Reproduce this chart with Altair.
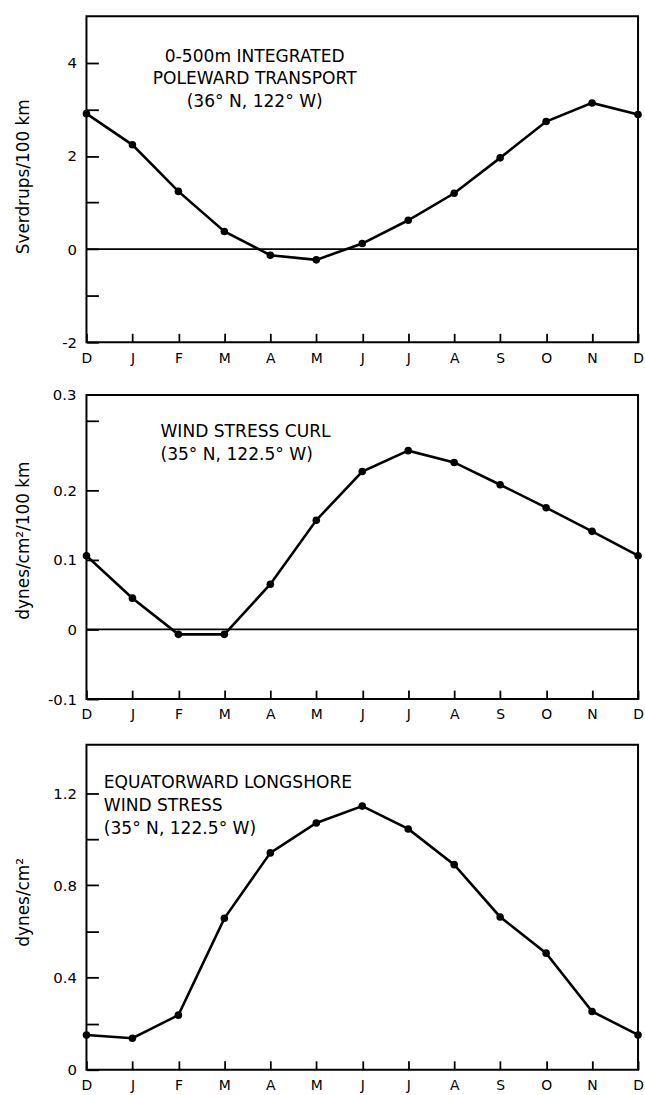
import json

import altair as alt
import pandas as pd

# Month sequence, December to December
MONTHS = ["D", "J", "F", "M", "A", "M", "J", "J", "A", "S", "O", "N", "D"]

# 0-500 m integrated poleward transport (Sverdrups / 100 km)
TRANSPORT = [2.91, 2.24, 1.24, 0.38, -0.13, -0.23, 0.12, 0.62, 1.20, 1.96, 2.74, 3.14, 2.89]
# Wind stress curl (dynes/cm^2 / 100 km)
CURL = [0.106, 0.045, -0.007, -0.007, 0.065, 0.157, 0.227, 0.257, 0.240, 0.208, 0.175, 0.141, 0.106]
# Equatorward longshore wind stress (dynes/cm^2)
STRESS = [0.151, 0.137, 0.237, 0.657, 0.941, 1.071, 1.144, 1.045, 0.890, 0.663, 0.506, 0.253, 0.151]

# Axis tick values and the labels shown on them
TRANSPORT_TICKS = [-2, -1, 0, 1, 2, 3, 4]
TRANSPORT_LABELS = {-2: "-2", 0: "0", 2: "2", 4: "4"}
CURL_TOP = 0.337
CURL_TICKS = [-0.1, -0.05, 0, 0.05, 0.1, 0.15, 0.2, 0.25, 0.3]
CURL_LABELS = {-0.1: "-0.1", 0: "0", 0.1: "0.1", 0.2: "0.2"}
CURL_TOP_LABEL = "0.3"
STRESS_TICKS = [0, 0.2, 0.4, 0.6, 0.8, 1.0, 1.2]
STRESS_LABELS = {0: "0", 0.4: "0.4", 0.8: "0.8", 1.2: "1.2"}

FONT = "DejaVu Sans"
WIDTH = 555
ONE = pd.DataFrame({"k": [0]})


def label_expr(mapping):
    vals = json.dumps(list(mapping.keys()))
    texts = json.dumps(list(mapping.values()))
    return (f"indexof({vals}, datum.value) >= 0 ? "
            f"{texts}[indexof({vals}, datum.value)] : ''")


def panel(values, height, domain, ticks, labels, title, title_y,
          note, note_x, note_y, note_align, zero_line, extra=None):
    df = pd.DataFrame({"m": list(range(len(MONTHS))), "v": values})
    x = alt.X(
        "m:Q",
        scale=alt.Scale(domain=[0, len(MONTHS) - 1], nice=False, zero=False),
        axis=alt.Axis(
            values=list(range(len(MONTHS))),
            labelExpr=f"{json.dumps(MONTHS)}[datum.value]",
            title=None, grid=False, domain=False,
            tickSize=9, offset=-9, tickWidth=1.8, tickColor="black",
            labelPadding=9, labelFontSize=14, labelAngle=0,
            labelFlush=False, labelOverlap=False, labelColor="black",
        ),
    )
    y = alt.Y(
        "v:Q",
        scale=alt.Scale(domain=domain, nice=False, zero=False),
        axis=alt.Axis(
            values=ticks,
            labelExpr=label_expr(labels),
            title=title, titleFontSize=17, titleFontWeight="normal",
            titleColor="black", titleX=-66, titleY=title_y,
            grid=False, domain=False,
            tickSize=12, offset=-12, tickWidth=1.8, tickColor="black",
            labelPadding=10, labelFontSize=15, labelColor="black",
            labelFlush=False, labelOverlap=False,
        ),
    )
    base = alt.Chart(df)
    curve = base.mark_line(color="black", strokeWidth=2.6).encode(x=x, y=y)
    dots = base.mark_circle(color="black", size=58, opacity=1).encode(x="m:Q", y="v:Q")
    text = alt.Chart(ONE).mark_text(
        text=note, align=note_align, baseline="middle",
        fontSize=17.2, lineHeight=23, color="black",
    ).encode(x=alt.datum(note_x), y=alt.datum(note_y))
    layers = [curve, dots, text]
    if zero_line:
        layers.insert(0, alt.Chart(ONE).mark_rule(color="black", strokeWidth=1.8)
                      .encode(y=alt.datum(0)))
    if extra is not None:
        layers.append(extra)
    return alt.layer(*layers).properties(width=WIDTH, height=height)


# "0.3" sits at the upper edge of the curl panel's frame
curl_top_label = alt.Chart(ONE).mark_text(
    text=CURL_TOP_LABEL, align="right", baseline="middle", fontSize=15,
    dx=-10, color="black",
).encode(x=alt.datum(0), y=alt.datum(CURL_TOP))

top = panel(TRANSPORT, 328, [-2, 5], TRANSPORT_TICKS, TRANSPORT_LABELS,
            "Sverdrups/100 km", 161,
            ["0-500m INTEGRATED", "POLEWARD TRANSPORT", "(36° N, 122° W)"],
            3.66, 4.136, "center", True)
middle = panel(CURL, 306, [-0.1, CURL_TOP], CURL_TICKS, CURL_LABELS,
               "dynes/cm²/100 km", 146,
               ["WIND STRESS CURL", "(35° N, 122.5° W)"],
               1.61, 0.284, "left", True, extra=curl_top_label)
bottom = panel(STRESS, 327, [0, 1.41], STRESS_TICKS, STRESS_LABELS,
               "dynes/cm²", 158,
               ["EQUATORWARD LONGSHORE", "WIND STRESS", "(35° N, 122.5° W)"],
               0.376, 1.242, "left", False)

chart = (
    alt.vconcat(top, middle, bottom, spacing=21)
    .properties(padding={"left": 13, "top": 12, "right": 0, "bottom": 0})
    .configure(font=FONT)
    .configure_view(stroke="black", strokeWidth=2)
)

chart.save("out.html", embed_options={"renderer": "svg", "actions": False})
